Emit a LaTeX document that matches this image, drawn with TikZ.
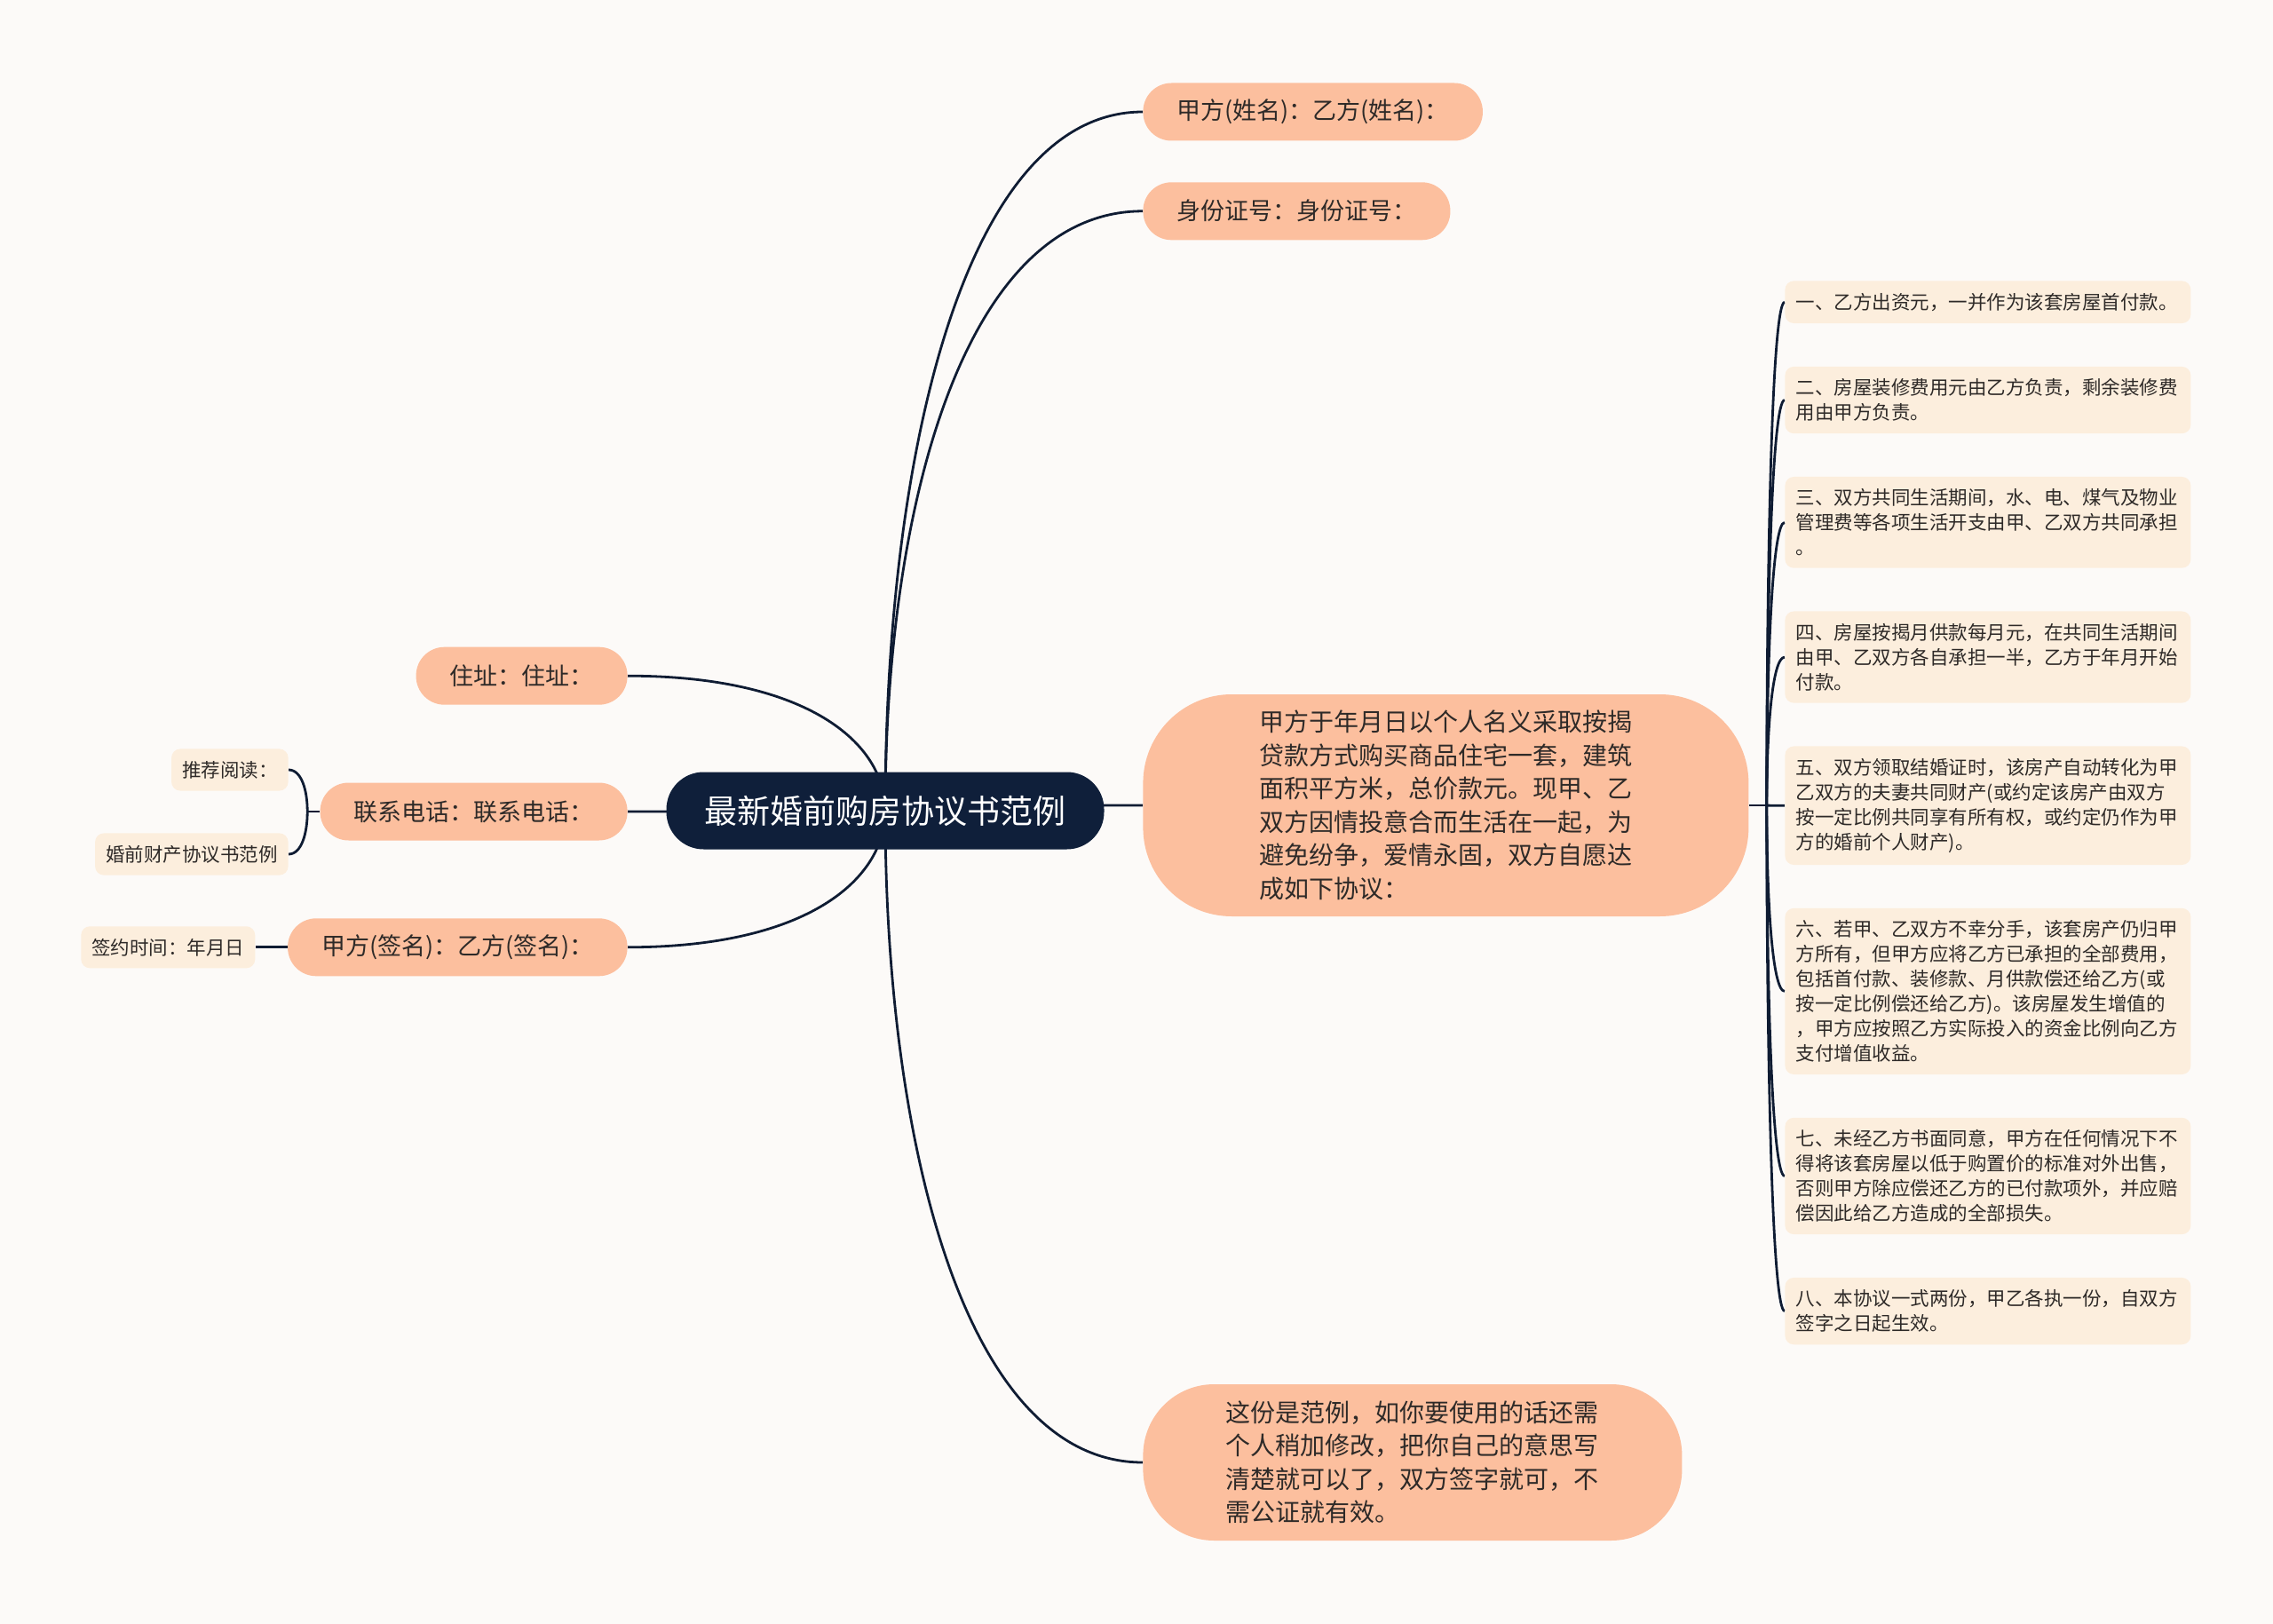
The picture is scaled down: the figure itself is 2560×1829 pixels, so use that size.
\documentclass[tikz,border=0pt]{standalone}
\usepackage{fontspec}
\setmainfont{Noto Sans CJK SC}
\usetikzlibrary{positioning,calc}
\definecolor{paper}{HTML}{FCFAF8}
\definecolor{rootblue}{HTML}{0F1F3A}
\definecolor{linkblue}{HTML}{0F1C33}
\definecolor{peach}{HTML}{FCBF9E}
\definecolor{cream}{HTML}{FCEEDD}
\definecolor{ink}{HTML}{2E2A28}
\pgfdeclarelayer{links}
\pgfsetlayers{links,main}

\begin{document}
\begin{tikzpicture}[
    x=0.5pt, y=-0.5pt,
    root/.style={rectangle, rounded corners=21pt, fill=rootblue, text=white, minimum width=246.5pt, minimum height=43.5pt, font=\fontsize{18.5}{21}\selectfont},
    topic/.style={rectangle, rounded corners=16pt, fill=peach, text=ink, minimum height=32.5pt, inner xsep=19pt, font=\fontsize{13.5}{16}\selectfont},
    bigtopic/.style={rectangle, fill=peach, text=ink, align=left, font=\fontsize{14}{18.75}\selectfont},
    leaf/.style={rectangle, rounded corners=5pt, fill=cream, text=ink, inner xsep=6pt, inner ysep=6.8pt, font=\fontsize{10.75}{14}\selectfont},
    clause/.style={leaf, text width=216pt, align=left, inner xsep=6.25pt},
    link/.style={draw=linkblue, line width=1.4pt},
    curvy/.style={to path={.. controls ($(\tikztostart)!0.5!(\tikztostart|-\tikztotarget)$) and ($(\tikztotarget)!0.7!(\tikztotarget-|\tikztostart)$) .. (\tikztotarget)}}
]
    \useasboundingbox (0,0) rectangle (2560,1829);

    % 中心主题
    \node [root] (root) at (997,913) {最新婚前购房协议书范例};

    % 右侧分支
    \node [topic, anchor=west] (xingming) at (1287,126) {甲方(姓名)：乙方(姓名)：};
    \node [topic, below=23pt of xingming.south west, anchor=north west] (sfz) {身份证号：身份证号：};
    \node [bigtopic, minimum width=341pt, minimum height=125pt, rounded corners=50pt, anchor=west] (goufang) at (1287,907)
        {甲方于年月日以个人名义采取按揭\\贷款方式购买商品住宅一套，建筑\\面积平方米，总价款元。现甲、乙\\双方因情投意合而生活在一起，为\\避免纷争，爱情永固，双方自愿达\\成如下协议：};
    \node [bigtopic, minimum width=303.5pt, minimum height=88pt, rounded corners=40pt, anchor=west] (fanli) at (1287,1647)
        {这份是范例，如你要使用的话还需\\个人稍加修改，把你自己的意思写\\清楚就可以了，双方签字就可，不\\需公证就有效。};

    % 左侧分支
    \node [topic, anchor=east] (dianhua) at (707,914) {联系电话：联系电话：};
    \node [topic, above=43.5pt of dianhua.north east, anchor=south east] (zhuzhi) {住址：住址：};
    \node [topic, below=43.5pt of dianhua.south east, anchor=north east] (qianming) {甲方(签名)：乙方(签名)：};
    \node [leaf, anchor=east] (tuijian) at (325,867) {推荐阅读：};
    \node [leaf, anchor=east] (hunqian) at (325,962) {婚前财产协议书范例};
    \node [leaf, left=18pt of qianming] (qianyue) {签约时间：年月日};

    % 协议条款
    \node [clause, anchor=north west] (t1) at (2010,316) {一、乙方出资元，一并作为该套房屋首付款。};
    \node [clause, below=24pt of t1] (t2) {二、房屋装修费用元由乙方负责，剩余装修费\\用由甲方负责。};
    \node [clause, below=24pt of t2] (t3) {三、双方共同生活期间，水、电、煤气及物业\\管理费等各项生活开支由甲、乙双方共同承担\\。};
    \node [clause, below=24pt of t3] (t4) {四、房屋按揭月供款每月元，在共同生活期间\\由甲、乙双方各自承担一半，乙方于年月开始\\付款。};
    \node [clause, below=24pt of t4] (t5) {五、双方领取结婚证时，该房产自动转化为甲\\乙双方的夫妻共同财产(或约定该房产由双方\\按一定比例共同享有所有权，或约定仍作为甲\\方的婚前个人财产)。};
    \node [clause, below=24pt of t5] (t6) {六、若甲、乙双方不幸分手，该套房产仍归甲\\方所有，但甲方应将乙方已承担的全部费用，\\包括首付款、装修款、月供款偿还给乙方(或\\按一定比例偿还给乙方)。该房屋发生增值的\\，甲方应按照乙方实际投入的资金比例向乙方\\支付增值收益。};
    \node [clause, below=24pt of t6] (t7) {七、未经乙方书面同意，甲方在任何情况下不\\得将该套房屋以低于购置价的标准对外出售，\\否则甲方除应偿还乙方的已付款项外，并应赔\\偿因此给乙方造成的全部损失。};
    \node [clause, below=24pt of t7] (t8) {八、本协议一式两份，甲乙各执一份，自双方\\签字之日起生效。};

    \coordinate (hubR) at ([xshift=10pt]goufang.east);
    \coordinate (hubL) at ([xshift=-7pt]dianhua.west);

    % 连线
    \begin{pgfonlayer}{links}
        \fill [paper] (0,0) rectangle (2560,1829);
        \draw [link] (root.center) to[curvy] (xingming.west);
        \draw [link] (root.center) to[curvy] (sfz.west);
        \draw [link] (root.center) to[curvy] (goufang.west);
        \draw [link] (root.center) to[curvy] (fanli.west);
        \draw [link] (root.center) to[curvy] (zhuzhi.east);
        \draw [link] (root.center) to[curvy] (dianhua.east);
        \draw [link] (root.center) to[curvy] (qianming.east);
        \draw [link] (dianhua.west) -- (hubL);
        \draw [link] (hubL) to[curvy] (tuijian.east);
        \draw [link] (hubL) to[curvy] (hunqian.east);
        \draw [link] (qianming.west) -- (qianyue.east);
        \draw [link] (goufang.east) -- (hubR);
        \draw [link] (hubR) to[curvy] (t1.west);
        \draw [link] (hubR) to[curvy] (t2.west);
        \draw [link] (hubR) to[curvy] (t3.west);
        \draw [link] (hubR) to[curvy] (t4.west);
        \draw [link] (hubR) to[curvy] (t5.west);
        \draw [link] (hubR) to[curvy] (t6.west);
        \draw [link] (hubR) to[curvy] (t7.west);
        \draw [link] (hubR) to[curvy] (t8.west);
    \end{pgfonlayer}
\end{tikzpicture}
\end{document}
